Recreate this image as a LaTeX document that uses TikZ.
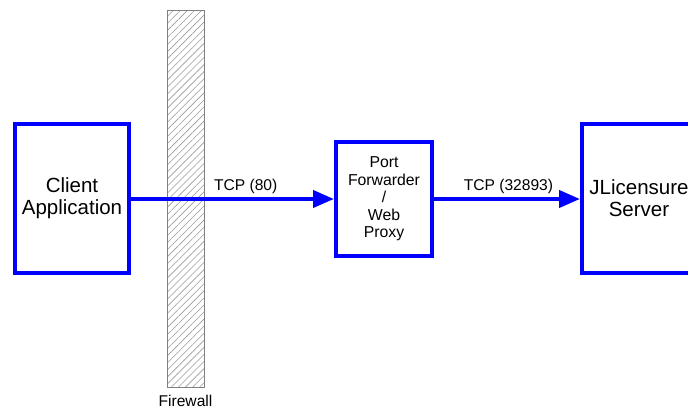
\documentclass[tikz,border=0pt]{standalone}
\usepackage{fontspec}
\setmainfont{Liberation Sans}
\usetikzlibrary{arrows.meta}
\usetikzlibrary{patterns.meta}
\definecolor{boxblue}{RGB}{0,0,255}
\tikzset{
	block/.style={rectangle,draw=boxblue,line width=4pt,align=center,inner sep=2pt},
	big node/.style={block,font=\fontsize{20.5}{22}\selectfont},
	small node/.style={block,font=\fontsize{15.8}{17.5}\selectfont},
	wall/.style={rectangle,draw=gray,line width=0.8pt,
		pattern={Lines[angle=45,distance=5pt,line width=0.6pt]},pattern color=gray!80},
	link/.style={draw=boxblue,line width=4pt,-{Triangle[length=21pt,width=17pt]}},
	lbl/.style={font=\fontsize{15.6}{18}\selectfont,text=black,inner sep=1pt}
}

\begin{document}
\begin{tikzpicture}[x=1pt,y=-1pt]
	\useasboundingbox (0,0) rectangle (688,410);
	% firewall
	\node [wall,minimum width=37pt,minimum height=377pt,inner sep=0pt] (fw) at (185.5,198.5) {};
	\node [lbl,below=7pt] (fwlabel) at (fw.south) {Firewall};
	% boxes
	\node [big node,minimum width=114pt,minimum height=149pt] (client) at (72,198.5) {Client\\Application};
	\node [small node,minimum width=96pt,minimum height=114pt] (proxy) at (384,199) {Port\\Forwarder\\/\\Web\\Proxy};
	\node [big node,minimum width=114pt,minimum height=149pt] (server) at (639,198.5) {JLicensure\\Server};
	% links
	\draw [link] (client.east |- proxy.west) -- node [lbl,pos=0.565,above=2pt] {TCP (80)} (proxy.west);
	\draw [link] (proxy.east) -- node [lbl,pos=0.51,above=2pt] {TCP (32893)} (server.west |- proxy.east);
\end{tikzpicture}
\end{document}
